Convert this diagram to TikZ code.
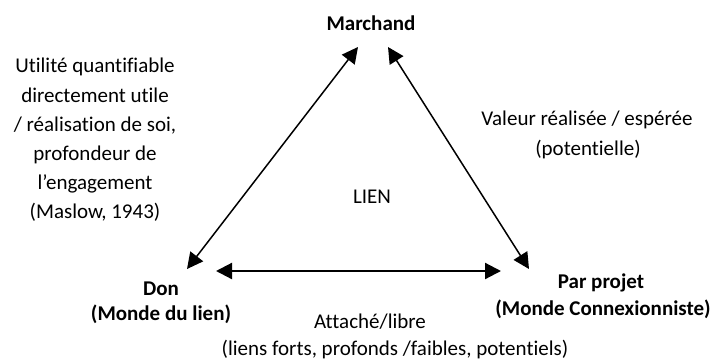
\documentclass[tikz,border=0pt]{standalone}
\usepackage{fontspec}
\setmainfont{Carlito}[Ligatures={NoCommon}]
\usetikzlibrary{arrows.meta}
\begin{document}
\begin{tikzpicture}[x=0.5pt,y=-0.5pt,
  lbl/.style={font=\fontsize{10.5}{14.6}\selectfont, align=center, inner sep=0pt, anchor=base},
  ttl/.style={font=\fontsize{10.5}{14.6}\selectfont\bfseries, align=center, inner sep=0pt, anchor=base},
  conn/.style={line width=0.75pt, {Triangle[length=8pt,width=8pt]}-{Triangle[length=8pt,width=8pt]}},
  hconn/.style={line width=1.1pt, {Triangle[length=8pt,width=8pt]}-{Triangle[length=8pt,width=8pt]}}]
\useasboundingbox (0,0) rectangle (712,360);
% main nodes
\node[ttl] (march) at (371,30) {Marchand};
\node[ttl] (don) at (161,295) {Don};
\node[ttl] (donb) at (161,320) {(Monde du lien)};
\node[ttl] (proj) at (601,288) {Par projet};
\node[ttl] (projb) at (603,315) {(Monde Connexionniste)};
% labels
\node[lbl, anchor=center] (left) at (95,140) {Utilité quantifiable\\directement utile\\/ réalisation de soi,\\profondeur de\\l’engagement\\(Maslow, 1943)};
\node[lbl] (right) at (587,125) {Valeur réalisée / espérée};
\node[lbl] (rightb) at (588,155) {(potentielle)};
\node[lbl] (lien) at (372,203) {LIEN};
\node[lbl] (bot) at (370,328) {Attaché/libre};
\node[lbl] (botb) at (395,355) {(liens forts, profonds /faibles, potentiels)};
% arrow ends
\coordinate (dTop) at (358,47);
\coordinate (dBot) at (187,269);
\coordinate (pTop) at (388,47);
\coordinate (pBot) at (529,269);
\coordinate (hL) at (216,271);
\coordinate (hR) at (501,271);
\draw[conn] (dBot) -- (dTop);
\draw[conn] (pBot) -- (pTop);
\draw[hconn] (hL) -- (hR);
\end{tikzpicture}
\end{document}
